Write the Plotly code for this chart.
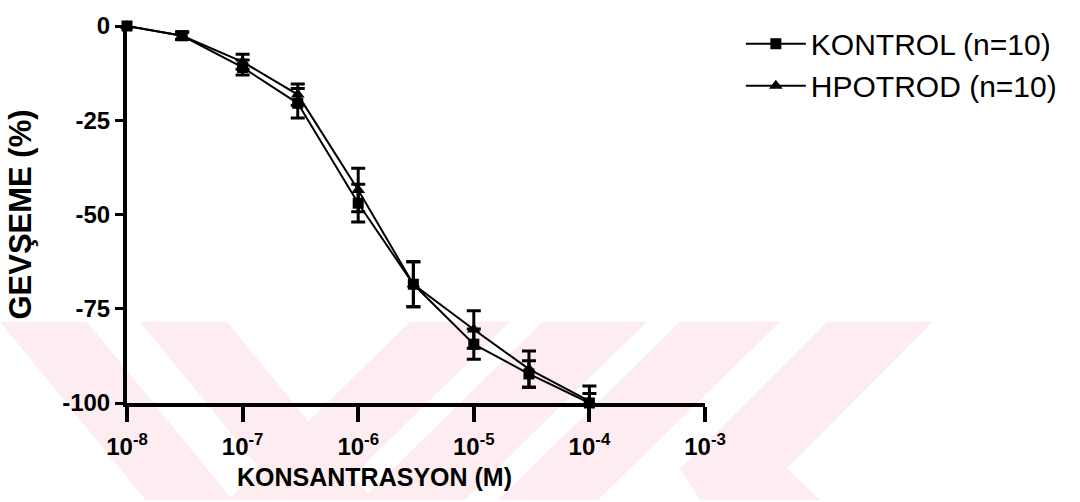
import plotly.graph_objects as go

# Data
conc = [1e-8, 3e-8, 1e-7, 3e-7, 1e-6, 3e-6, 1e-5, 3e-5, 1e-4]
kontrol = [0, -2.6, -11.0, -20.5, -47.0, -68.5, -84.4, -92.3, -100.0]
kontrol_err = [0, 1.0, 2.0, 3.9, 5.0, 6.0, 4.0, 3.5, 2.5]
hipo = [0, -2.6, -9.5, -18.2, -43.5, -68.5, -80.5, -91.0, -99.5]
hipo_err = [0, 1.0, 2.0, 2.8, 5.8, 6.0, 5.0, 4.8, 4.0]

x_tickvals = [1e-8, 1e-7, 1e-6, 1e-5, 1e-4, 1e-3]
x_ticktext = ["10<sup>-8</sup>", "10<sup>-7</sup>", "10<sup>-6</sup>",
              "10<sup>-5</sup>", "10<sup>-4</sup>", "10<sup>-3</sup>"]
y_tickvals = [0, -25, -50, -75, -100]
y_ticktext = ["0", "-25", "-50", "-75", "-100"]

W, H = 1080, 502
L, R, T, B = 127, 375, 18, 99
PW, PH = W - L - R, H - T - B

FONT = "Liberation Sans, Arial, sans-serif"

fig = go.Figure()
fig.add_trace(go.Scatter(
    x=conc, y=kontrol, name="KONTROL (n=10)", mode="lines+markers",
    line=dict(color="black", width=2),
    marker=dict(symbol="square", size=11, color="black"),
    error_y=dict(type="data", array=kontrol_err, color="black", thickness=3, width=7),
    cliponaxis=False, legendgroup="a"))
fig.add_trace(go.Scatter(
    x=conc, y=hipo, name="HPOTROD (n=10)", mode="lines+markers",
    line=dict(color="black", width=2),
    marker=dict(symbol="triangle-up", size=12, color="black"),
    error_y=dict(type="data", array=hipo_err, color="black", thickness=3, width=7),
    cliponaxis=False, legendgroup="b"))

# faint watermark (pixel-based polygons converted to paper coords)
def px2paper(px, py):
    return ((px - L) / PW, 1 - (py - T) / PH)

def poly(points):
    pts = [px2paper(a, b) for a, b in points]
    d = "M " + " L ".join(f"{a:.4f},{b:.4f}" for a, b in pts) + " Z"
    return dict(type="path", path=d, xref="paper", yref="paper",
                fillcolor="#fdedf0", line=dict(width=0), layer="below")

top, bot = 320, 502
dy = bot - top
shapes = []
for x0, x1 in [(0, 87), (140, 227)]:
    shapes.append(poly([(x0, top), (x1, top), (x1 + dy * 0.8, bot), (x0 + dy * 0.8, bot)]))
for x0, x1 in [(410, 510), (543, 647), (680, 780)]:
    shapes.append(poly([(x0, top), (x1, top), (x1 - dy, bot), (x0 - dy, bot)]))
shapes.append(poly([(827, top), (933, top), (787, 470), (820, bot), (700, bot), (680, 470)]))

ax_x, ax_y = px2paper(374, 479)

fig.update_layout(
    width=W, height=H,
    margin=dict(l=L, r=R, t=T, b=B),
    paper_bgcolor="white", plot_bgcolor="rgba(0,0,0,0)",
    shapes=shapes,
    showlegend=True,
    legend=dict(x=1.062, y=1.022, xanchor="left", yanchor="top",
                font=dict(family=FONT, size=30, color="black"),
                itemwidth=60, tracegroupgap=0, bgcolor="rgba(0,0,0,0)"),
    font=dict(family=FONT, color="black"),
    annotations=[dict(text="KONSANTRASYON (M)", x=ax_x, y=ax_y, xref="paper", yref="paper",
                      xanchor="center", yanchor="middle", showarrow=False,
                      font=dict(family=FONT, size=25, color="black", weight="bold"))],
)
fig.update_xaxes(
    type="log", range=[-8, -3], tickvals=x_tickvals, ticktext=x_ticktext,
    ticks="outside", ticklen=15, tickwidth=4, tickcolor="black",
    showline=True, linewidth=4, linecolor="black",
    showgrid=False, zeroline=False, ticklabelstandoff=4,
    tickfont=dict(family=FONT, size=24, color="black", weight="bold"),
)
fig.update_yaxes(
    range=[-100, 0], tickvals=y_tickvals, ticktext=y_ticktext,
    ticks="outside", ticklen=8, tickwidth=3, tickcolor="black",
    showline=True, linewidth=4, linecolor="black",
    showgrid=False, zeroline=False,
    tickfont=dict(family=FONT, size=24, color="black", weight="bold"),
    title=dict(text="GEVŞEME (%)", standoff=22,
               font=dict(family=FONT, size=31, color="black", weight="bold")),
)

fig.write_html("out.html")
